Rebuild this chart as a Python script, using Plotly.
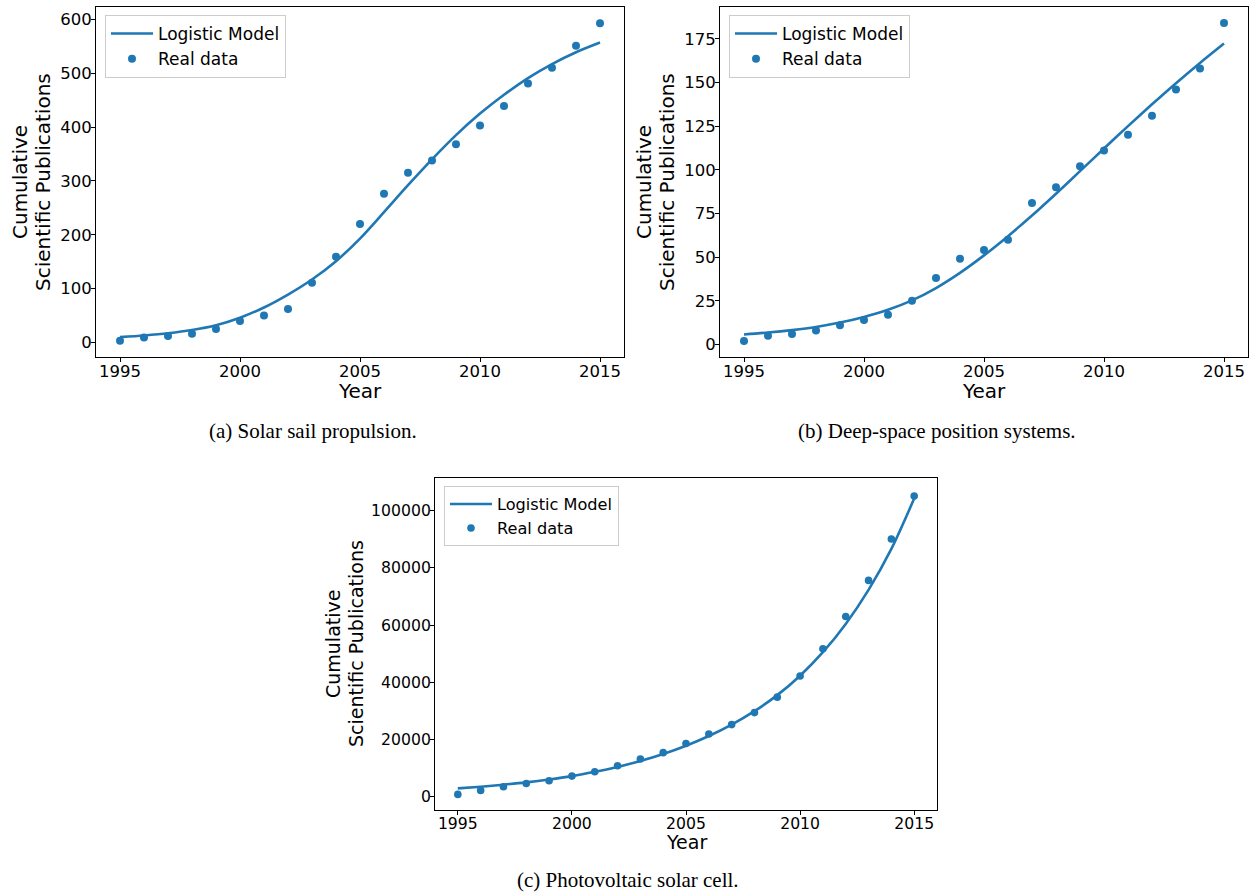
import plotly.graph_objects as go

# ---------------- data ----------------
years = [1995, 1996, 1997, 1998, 1999, 2000, 2001, 2002, 2003, 2004, 2005,
         2006, 2007, 2008, 2009, 2010, 2011, 2012, 2013, 2014, 2015]

sail_real = [3, 9, 12, 16, 25, 40, 50, 62, 111, 159, 220,
             276, 315, 338, 368, 403, 439, 481, 510, 551, 593]
sail_model = [10, 13, 17, 23, 32, 46, 65, 89, 117, 151, 193,
              242, 292, 340, 385, 425, 460, 491, 517, 539, 557]

deep_real = [2, 5, 6, 8, 11, 14, 17, 25, 38, 49, 54,
             60, 81, 90, 102, 111, 120, 131, 146, 158, 184]
deep_model = [5.7, 6.8, 8.2, 10.0, 12.5, 15.7, 19.8, 25.2, 32.3, 41.0, 51.0,
              62.0, 73.8, 86.3, 99.2, 112.2, 125.0, 137.5, 149.6, 161.2, 172.3]

pv_real = [800, 2200, 3500, 4600, 5600, 7200, 8700, 10800, 13200, 15400, 18600,
           21900, 25200, 29400, 34800, 42200, 51700, 63000, 75600, 90100, 105100]
pv_model = [2900, 3500, 4200, 5000, 6000, 7200, 8700, 10400, 12500, 14900, 17800,
            21200, 25200, 29900, 35500, 42300, 50500, 60400, 72300, 86600, 104200]

x_ticks = [1995, 2000, 2005, 2010, 2015]
sail_yticks = [0, 100, 200, 300, 400, 500, 600]
deep_yticks = [0, 25, 50, 75, 100, 125, 150, 175]
pv_yticks = [0, 20000, 40000, 60000, 80000, 100000]

captions = ["(a) Solar sail propulsion.",
            "(b) Deep-space position systems.",
            "(c) Photovoltaic solar cell."]

# ---------------- layout helpers ----------------
W, H = 1251, 892
BLUE = "#1f77b4"
SANS = "DejaVu Sans"
SERIF = "Liberation Serif"


def px(x):
    return x / W


def py(y):
    return 1 - y / H


panels = [
    dict(l=96, r=624, t=7, b=357, yr=[-27, 623], yt=sail_yticks,
         real=sail_real, model=sail_model, s=1.0),
    dict(l=720, r=1248, t=7, b=357, yr=[-7.2, 193.2], yt=deep_yticks,
         real=deep_real, model=deep_model, s=1.0),
    dict(l=435, r=937, t=478, b=810, yr=[-4650, 111400], yt=pv_yticks,
         real=pv_real, model=pv_model, s=0.95),
]

fig = go.Figure()
layout = dict(width=W, height=H, margin=dict(l=0, r=0, t=0, b=0),
              paper_bgcolor="white", plot_bgcolor="white", showlegend=True)
annotations = []

for i, p in enumerate(panels, start=1):
    sfx = "" if i == 1 else str(i)
    leg = "legend" if i == 1 else f"legend{i}"
    fs = p["s"]
    fig.add_trace(go.Scatter(
        x=years, y=p["model"], mode="lines", name="Logistic Model",
        line=dict(color=BLUE, width=2.6, shape="spline", smoothing=0.8),
        xaxis=f"x{sfx}", yaxis=f"y{sfx}", legend=leg))
    fig.add_trace(go.Scatter(
        x=years, y=p["real"], mode="markers", name="Real data",
        marker=dict(color=BLUE, size=8 * fs),
        xaxis=f"x{sfx}", yaxis=f"y{sfx}", legend=leg))

    axcommon = dict(showline=True, mirror=True, linecolor="black", linewidth=1,
                    ticks="outside", ticklen=4, tickwidth=1, tickcolor="black",
                    showgrid=False, zeroline=False,
                    tickfont=dict(family=SANS, size=16.5 * fs, color="black"))
    layout[f"xaxis{sfx}"] = dict(
        domain=[px(p["l"]), px(p["r"])], range=[1994, 2016],
        tickvals=x_ticks, ticktext=[str(v) for v in x_ticks],
        anchor=f"y{sfx}", ticklabelstandoff=-5, **axcommon)
    layout[f"yaxis{sfx}"] = dict(
        domain=[py(p["b"]), py(p["t"])], range=p["yr"],
        tickvals=p["yt"], ticktext=[str(v) for v in p["yt"]],
        anchor=f"x{sfx}", ticklabelstandoff=-4, **axcommon)

    layout[leg] = dict(
        x=px(p["l"] + 9), y=py(p["t"] + 8), xanchor="left", yanchor="top",
        xref="paper", yref="paper",
        bgcolor="rgba(255,255,255,0.8)", bordercolor="#cccccc", borderwidth=1,
        font=dict(family=SANS, size=17 * fs, color="black"),
        tracegroupgap=0, itemwidth=42)

    cx = (p["l"] + p["r"]) / 2
    annotations.append(dict(
        text="Year", x=px(cx), y=py(p["b"] + 34 * fs), xref="paper", yref="paper",
        xanchor="center", yanchor="middle", showarrow=False,
        font=dict(family=SANS, size=20 * fs, color="black")))
    cy = (p["t"] + p["b"]) / 2
    off1, off2 = (76, 53) if i < 3 else (102, 79)
    annotations.append(dict(
        text="Cumulative", x=px(p["l"] - off1), y=py(cy), xref="paper", yref="paper",
        xanchor="center", yanchor="middle", showarrow=False, textangle=-90,
        font=dict(family=SANS, size=20 * fs, color="black")))
    annotations.append(dict(
        text="Scientific Publications", x=px(p["l"] - off2), y=py(cy),
        xref="paper", yref="paper",
        xanchor="center", yanchor="middle", showarrow=False, textangle=-90,
        font=dict(family=SANS, size=20 * fs, color="black")))

caption_pos = [(313, 431), (937, 431), (628, 880)]
for text, (cx, cy) in zip(captions, caption_pos):
    annotations.append(dict(
        text=text, x=px(cx), y=py(cy), xref="paper", yref="paper",
        xanchor="center", yanchor="middle", showarrow=False,
        font=dict(family=SERIF, size=21, color="black")))

layout["annotations"] = annotations
fig.update_layout(**layout)
fig.write_html(
    "out.html",
    config={"displayModeBar": False},
    post_script="document.body.style.margin='0';document.body.style.padding='0';")
